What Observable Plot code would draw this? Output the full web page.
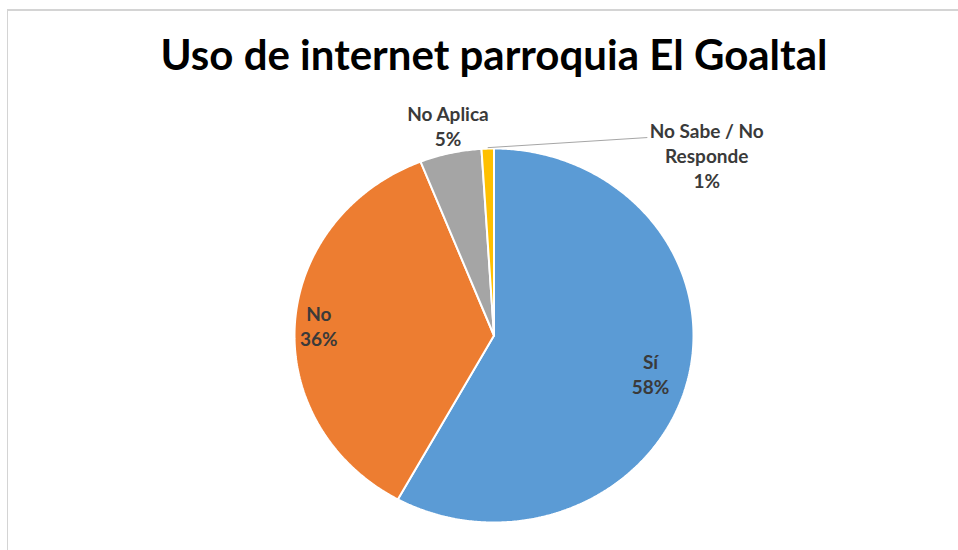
<!DOCTYPE html>
<html><head><meta charset="utf-8">
<script src="https://cdn.jsdelivr.net/npm/d3@7"></script>
<script src="https://cdn.jsdelivr.net/npm/@observablehq/plot@0.6"></script>
<style>
body{margin:0;background:#fff;overflow:hidden;}
#frame{position:absolute;left:7px;top:9px;width:1000px;height:600px;border-left:1px solid #d4d4d4;border-top:2px solid #d4d4d4;}
#chart{position:absolute;left:0;top:0;}
</style></head><body>
<div id="frame"></div><div id="chart"></div>
<script>
const title = "Uso de internet parroquia El Goaltal";
const categories = ["Sí", "No", "No Aplica", "No Sabe / No Responde"];
const percents = [58, 36, 5, 1];
const labelTexts = ["Sí\n58%", "No\n36%", "No Aplica\n5%", "No Sabe / No\nResponde\n1%"];
const colors = ["#5B9BD5", "#ED7D31", "#A5A5A5", "#FFC000"];

// layout of the data labels (radius as fraction of the pie, pixel nudges)
const labelLayout = {
  "Sí": {r: 0.81, dx: 0, dy: 0},
  "No": {r: 0.88, dx: 0, dy: 0},
  "No Aplica": {r: 1.15, dx: 4, dy: 0},
  "No Sabe / No Responde": {r: 1.0, dx: 219, dy: 6, leader: true}
};

const arcs = d3.pie().sort(null).value(d => d)(percents);

const slicePts = [];
arcs.forEach((a, i) => {
  const n = Math.max(4, Math.ceil((a.endAngle - a.startAngle) / (Math.PI / 360)));
  slicePts.push({cat: categories[i], x: 0, y: 0});
  for (let j = 0; j <= n; j++) {
    const t = a.startAngle + (a.endAngle - a.startAngle) * j / n;
    slicePts.push({cat: categories[i], x: Math.sin(t), y: Math.cos(t)});
  }
  slicePts.push({cat: categories[i], x: 0, y: 0});
});

const labels = arcs.map((a, i) => {
  const m = (a.startAngle + a.endAngle) / 2;
  const L = labelLayout[categories[i]];
  return {cat: categories[i], text: labelTexts[i], x: L.r * Math.sin(m), y: L.r * Math.cos(m),
          ex: Math.sin(m), ey: Math.cos(m), dx: L.dx, dy: L.dy, leader: !!L.leader};
});
const leaders = labels.filter(d => d.leader).map(d => ({x1: d.ex, y1: d.ey + 0.005, x2: d.ex + 0.80, y2: d.ey + 0.059}));

const font = "Lato, 'Open Sans', sans-serif";
const chart = Plot.plot({
  width: 958, height: 550,
  marginLeft: 294, marginRight: 265, marginTop: 148, marginBottom: 28,
  x: {domain: [-1, 1], axis: null},
  y: {domain: [-1, 1], axis: null},
  color: {type: "ordinal", domain: categories, range: colors},
  style: {fontFamily: font, background: "transparent", overflow: "visible"},
  marks: [
    Plot.line(slicePts, {x: "x", y: "y", z: "cat", fill: "cat", stroke: "white", strokeWidth: 2, strokeLinejoin: "miter", curve: "linear"}),
    Plot.link(leaders, {x1: "x1", y1: "y1", x2: "x2", y2: "y2", stroke: "#a6a6a6", strokeWidth: 1}),
    ...labels.map(d => Plot.text([d], {x: "x", y: "y", text: "text", dx: d.dx, dy: d.dy,
      fontSize: 19, fontWeight: "bold", fill: "#3a3a3a", lineHeight: 1.32, lineAnchor: "middle", fontFamily: font})),
    Plot.text([title], {frameAnchor: "top", dy: -92, text: d => d, fontSize: 42, fontWeight: "bold", fill: "#000", fontFamily: font, lineAnchor: "middle"})
  ]
});
document.getElementById("chart").appendChild(chart);
</script>
</body></html>
